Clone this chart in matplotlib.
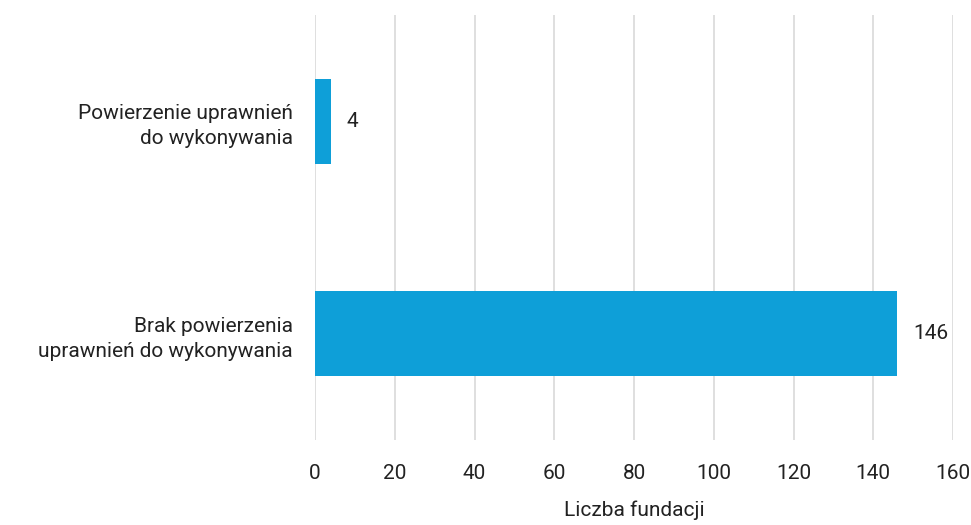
import matplotlib.pyplot as plt

plt.rcParams["font.family"] = ["Roboto", "DejaVu Sans"]

categories = ["Brak powierzenia\nuprawnień do wykonywania",
              "Powierzenie uprawnień\ndo wykonywania"]
values = [146, 4]
xticks = [0, 20, 40, 60, 80, 100, 120, 140, 160]

fig = plt.figure(figsize=(9.71, 5.25), dpi=100)
ax = fig.add_axes([315 / 971, 1 - 440 / 525, 638 / 971, 425 / 525])

ax.barh(range(len(values)), values, height=0.4, color="#0E9FD8", zorder=3)
for i, v in enumerate(values):
  ax.text(v + 4, i, str(v), va="center", ha="left", fontsize=15, color="#222222")

ax.set_xlim(0, 160)
ax.set_ylim(-0.5, 1.5)
ax.set_xticks(xticks)
ax.set_yticks(range(len(categories)))
ax.set_yticklabels(categories, fontsize=15, color="#222222", linespacing=1.4)
ax.tick_params(axis="x", labelsize=15, labelcolor="#222222", length=0, pad=17)
ax.tick_params(axis="y", length=0, pad=16)
ax.grid(axis="x", color="#d9d9d9", linewidth=1.2, zorder=0)
for s in ax.spines.values():
  s.set_visible(False)
ax.set_xlabel("Liczba fundacji", fontsize=15, color="#222222", labelpad=13)

plt.savefig("out.png")
plt.close()
